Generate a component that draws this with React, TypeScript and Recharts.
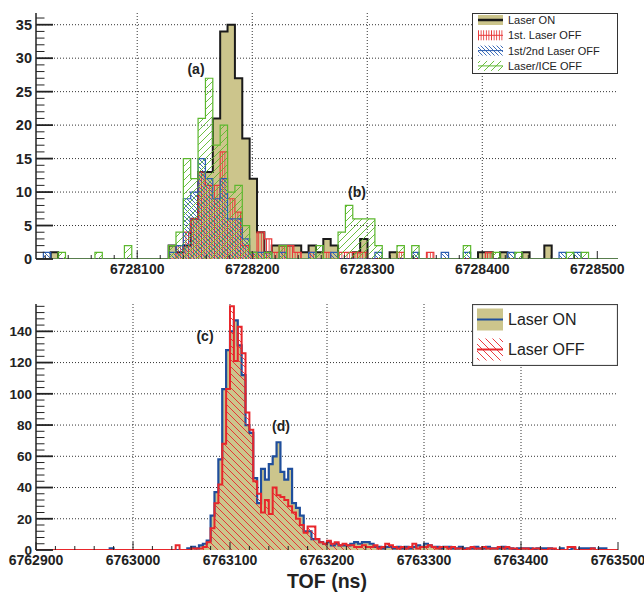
import { AreaChart, Area, XAxis, YAxis, CartesianGrid, Legend } from 'recharts'

const FONT = '"Liberation Sans", Arial, Helvetica, sans-serif'
const OLIVE = '#ccc58c'

// ---- upper panel: 79 bins between 6728012 and 6728518 ns ----
const topRange: [number, number] = [6728012, 6728518]
const topYMax = 36.75
const topXMajor = [6728100, 6728200, 6728300, 6728400, 6728500]
const topYMajor = [0, 5, 10, 15, 20, 25, 30, 35]

const laserOn = [
  0, 0, 1, 0, 0, 0, 0, 0, 0, 0,
  0, 0, 0, 0, 0, 0, 0, 0, 2, 1,
  2, 6, 13, 13, 21, 34, 35, 27, 18, 12,
  4, 1, 2, 2, 2, 2, 1, 2, 1, 3,
  2, 0, 0, 1, 3, 0, 0, 0, 1, 0,
  0, 0, 0, 0, 0, 0, 0, 0, 0, 0,
  1, 1, 0, 1, 0, 0, 1, 0, 0, 2,
  0, 0, 0, 0, 0, 0, 0, 0, 0,
]
const laser1stOff = [
  0, 0, 0, 0, 0, 0, 0, 0, 0, 0,
  0, 0, 0, 0, 0, 0, 0, 0, 0, 2,
  4, 6, 13, 11, 11, 16, 9, 7, 2, 1,
  4, 3, 1, 2, 2, 1, 0, 1, 0, 1,
  0, 1, 1, 1, 1, 0, 0, 0, 0, 1,
  0, 0, 0, 1, 0, 0, 0, 0, 0, 0,
  0, 1, 0, 0, 0, 0, 0, 0, 0, 0,
  0, 0, 0, 0, 0, 0, 0, 0, 0,
]
const laser12Off = [
  0, 1, 0, 0, 0, 0, 0, 0, 0, 0,
  0, 0, 0, 0, 0, 0, 0, 0, 1, 2,
  9, 10, 15, 12, 9, 12, 6, 6, 3, 1,
  1, 1, 0, 1, 0, 0, 0, 1, 0, 0,
  1, 0, 0, 0, 0, 0, 1, 0, 0, 0,
  0, 1, 0, 0, 0, 1, 0, 0, 1, 0,
  0, 0, 0, 0, 1, 0, 0, 0, 0, 0,
  0, 1, 0, 1, 0, 0, 0, 0, 0,
]
const laserIceOff = [
  0, 0, 0, 1, 0, 0, 0, 0, 1, 0,
  0, 0, 2, 0, 0, 0, 0, 0, 2, 4,
  15, 12, 21, 27, 17, 20, 10, 11, 5, 1,
  0, 1, 0, 2, 0, 0, 0, 0, 2, 0,
  0, 4, 8, 6, 6, 6, 2, 0, 0, 2,
  0, 2, 0, 0, 0, 0, 0, 0, 2, 0,
  0, 0, 1, 0, 0, 1, 0, 0, 0, 0,
  0, 0, 1, 0, 1, 0, 0, 0, 0,
]

// ---- lower panel: 4 ns bins from 6762900 to 6763500 ----
const botRange: [number, number] = [6762900, 6763500]
const botYMax = 157.5
const botXMajor = [6762900, 6763000, 6763100, 6763200, 6763300, 6763400, 6763500]
const botYMajor = [0, 20, 40, 60, 80, 100, 120, 140]

const onCounts = [
  0, 0, 0, 0, 0, 0, 0, 0, 0, 0,
  0, 0, 0, 0, 0, 0, 0, 0, 0, 1,
  0, 0, 0, 0, 0, 0, 0, 0, 0, 0,
  0, 0, 0, 0, 0, 0, 0, 0, 0, 1,
  2, 1, 3, 4, 6, 22, 37, 58, 103, 128,
  140, 147, 131, 112, 80, 75, 46, 30, 52, 45,
  55, 60, 69, 50, 45, 52, 30, 27, 22, 12,
  12, 7, 7, 5, 4, 5, 3, 4, 3, 3,
  3, 4, 5, 4, 5, 5, 4, 2, 2, 1,
  2, 2, 1, 2, 1, 2, 1, 2, 3, 2,
  4, 3, 2, 2, 1, 2, 2, 1, 1, 2,
  1, 1, 1, 2, 1, 1, 2, 1, 1, 1,
  2, 1, 1, 0, 1, 1, 1, 1, 0, 1,
  1, 1, 1, 0, 0, 1, 0, 0, 1, 0,
  1, 1, 1, 1, 0, 1, 1, 0, 0, 0,
]
const offCounts = [
  0, 0, 0, 0, 0, 0, 0, 0, 0, 0,
  0, 0, 0, 0, 0, 0, 0, 0, 0, 0,
  0, 0, 0, 0, 0, 0, 0, 0, 0, 0,
  0, 0, 0, 0, 0, 0, 3, 0, 0, 0,
  1, 1, 1, 2, 5, 14, 30, 42, 68, 103,
  156, 121, 143, 126, 88, 77, 44, 36, 24, 32,
  23, 40, 35, 34, 32, 28, 24, 20, 16, 11,
  15, 15, 7, 5, 4, 6, 4, 5, 3, 4,
  3, 3, 2, 2, 3, 2, 2, 3, 1, 2,
  4, 3, 2, 1, 2, 1, 2, 4, 1, 2,
  2, 3, 2, 1, 2, 2, 1, 2, 1, 1,
  0, 1, 2, 1, 1, 2, 1, 1, 1, 2,
  1, 2, 1, 1, 0, 1, 1, 0, 1, 1,
  0, 0, 1, 1, 0, 0, 0, 2, 2, 0,
  0, 0, 0, 1, 0, 0, 0, 0, 0, 0,
]

// histogram edges -> rows for stepAfter areas
function buildRows(range: [number, number], series: Record<string, number[]>) {
  const keys = Object.keys(series)
  const n = series[keys[0]].length
  const w = (range[1] - range[0]) / n
  const rows: Record<string, number>[] = []
  for (let i = 0; i <= n; i++) {
    const row: Record<string, number> = { x: i === n ? range[1] : range[0] + i * w }
    keys.forEach(k => { row[k] = series[k][Math.min(i, n - 1)] })
    rows.push(row)
  }
  return rows
}

function withMinor(step: number, lo: number, hi: number) {
  const out: number[] = []
  for (let v = Math.ceil(lo / step) * step; v <= hi + 1e-9; v += step) out.push(v)
  return out
}

const topRows = buildRows(topRange, { on: laserOn, off1: laser1stOff, off12: laser12Off, ice: laserIceOff })
const botRows = buildRows(botRange, { on: onCounts, off: offCounts })

const PLOT_LEFT = 36

function yTick(majors: number[], fontSize: number) {
  return (props: any) => {
    const { y, payload } = props
    const major = majors.includes(payload.value)
    return (
      <g>
        <line x1={PLOT_LEFT} x2={PLOT_LEFT + (major ? 17 : 8.5)} y1={y} y2={y} stroke="#222" strokeWidth={major ? 1.8 : 1} />
        {major && (
          <text x={PLOT_LEFT - 4} y={y} dy="0.36em" textAnchor="end" fontFamily={FONT} fontWeight="bold" fontSize={fontSize} fill="#222">
            {payload.value}
          </text>
        )}
      </g>
    )
  }
}

function xTick(majors: number[], plotBottom: number) {
  return (props: any) => {
    const { x, payload } = props
    const major = majors.includes(payload.value)
    return (
      <g>
        <line x1={x} x2={x} y1={plotBottom} y2={plotBottom - (major ? 8 : 4)} stroke="#222" strokeWidth={1} />
        {major && (
          <text x={x} y={plotBottom + 15} textAnchor="middle" fontFamily={FONT} fontWeight="bold" fontSize={14} fill="#222">
            {payload.value}
          </text>
        )}
      </g>
    )
  }
}

const topLegendItems = [
  { name: 'Laser ON', fill: OLIVE, line: '#1a1a1a', lw: 2.5 },
  { name: '1st. Laser OFF', fill: 'url(#hRedV)', line: '#e83a3a', lw: 1 },
  { name: '1st/2nd Laser OFF', fill: 'url(#hBlueB)', line: '#2a5db0', lw: 1 },
  { name: 'Laser/ICE OFF', fill: 'url(#hGreenF)', line: '#5cb82e', lw: 1 },
]
const botLegendItems = [
  { name: 'Laser ON', fill: OLIVE, line: '#1f4e9c', lw: 2 },
  { name: 'Laser OFF', fill: 'url(#hRedB)', line: '#e8262b', lw: 2 },
]

function TopLegend() {
  return (
    <svg width={146} height={61} style={{ display: 'block' }}>
      <rect x={0.5} y={0.5} width={145} height={60} fill="#fff" stroke="#333" />
      {topLegendItems.map((it, i) => {
        const cy = 7 + i * 15.3
        return (
          <g key={it.name}>
            <rect x={6} y={cy - 5} width={25} height={10} fill={it.fill} />
            <line x1={6} x2={31} y1={cy} y2={cy} stroke={it.line} strokeWidth={it.lw} />
            <text x={36} y={cy} dy="0.36em" fontFamily={FONT} fontSize={11} fill="#222">{it.name}</text>
          </g>
        )
      })}
    </svg>
  )
}

function BotLegend() {
  return (
    <svg width={146} height={62} style={{ display: 'block' }}>
      <rect x={0.5} y={0.5} width={145} height={61} fill="#fff" stroke="#444" strokeWidth={1.2} />
      {botLegendItems.map((it, i) => {
        const cy = 15.5 + i * 30
        return (
          <g key={it.name}>
            <rect x={5} y={cy - 11} width={26} height={22} fill={it.fill} />
            <line x1={5} x2={31} y1={cy} y2={cy} stroke={it.line} strokeWidth={it.lw} />
            <text x={36} y={cy} dy="0.36em" fontFamily={FONT} fontSize={16} fill="#222">{it.name}</text>
          </g>
        )
      })}
    </svg>
  )
}

export default function App() {
  return (
    <div style={{ position: 'absolute', left: 0, top: 0, width: 644, height: 594, background: '#fff' }}>
      <svg width={0} height={0} style={{ position: 'absolute' }}>
        <defs>
          <pattern id="hRedV" width={2.6} height={4} patternUnits="userSpaceOnUse">
            <line x1={1.3} y1={0} x2={1.3} y2={4} stroke="#e83a3a" strokeWidth={0.9} />
          </pattern>
          <pattern id="hBlueB" width={4} height={4} patternUnits="userSpaceOnUse">
            <path d="M-1,-1 L5,5 M-1,3 L1,5 M3,-1 L5,1" stroke="#2a5db0" strokeWidth={0.9} />
          </pattern>
          <pattern id="hGreenF" width={7} height={7} patternUnits="userSpaceOnUse">
            <path d="M-1,8 L8,-1 M-1,1 L1,-1 M6,8 L8,6" stroke="#5cb82e" strokeWidth={0.9} />
          </pattern>
          <pattern id="hRedB" width={7} height={7} patternUnits="userSpaceOnUse">
            <path d="M-1,-1 L8,8 M-1,6 L1,8 M6,-1 L8,1" stroke="#e8262b" strokeWidth={0.9} />
          </pattern>
        </defs>
      </svg>

      {/* upper panel */}
      <div style={{ position: 'absolute', left: 0, top: 0 }}>
        <AreaChart width={644} height={290} data={topRows} margin={{ top: 13, right: 26, left: 0, bottom: 0 }}>
          <CartesianGrid stroke="#333" strokeDasharray="1 2" horizontalValues={topYMajor.slice(1)} verticalValues={topXMajor.slice(0, 4)} />
          <XAxis dataKey="x" type="number" domain={topRange} allowDataOverflow height={31} ticks={withMinor(20, topRange[0], topRange[1])} interval={0} tick={xTick(topXMajor, 259)} tickLine={false} axisLine={false} />
          <YAxis type="number" domain={[0, topYMax]} allowDataOverflow width={36} ticks={withMinor(1, 0, topYMax)} interval={0} tick={yTick(topYMajor, 14.5)} tickLine={false} axisLine={{ stroke: '#222', strokeWidth: 1.5 }} />
          <XAxis xAxisId="frame" orientation="top" type="number" domain={topRange} height={0} tick={false} tickLine={false} axisLine={{ stroke: '#777' }} />
          <YAxis yAxisId="frame" orientation="right" type="number" domain={[0, topYMax]} width={0} tick={false} tickLine={false} axisLine={{ stroke: '#222' }} />
          <Area type="stepAfter" dataKey="on" stroke="#1a1a1a" strokeWidth={2} fill={OLIVE} fillOpacity={1} baseValue={0} isAnimationActive={false} dot={false} activeDot={false} />
          <Area type="stepAfter" dataKey="off1" stroke="#e83a3a" strokeWidth={1.2} fill="url(#hRedV)" fillOpacity={1} baseValue={0} isAnimationActive={false} dot={false} activeDot={false} />
          <Area type="stepAfter" dataKey="off12" stroke="#2a5db0" strokeWidth={1.2} fill="url(#hBlueB)" fillOpacity={1} baseValue={0} isAnimationActive={false} dot={false} activeDot={false} />
          <Area type="stepAfter" dataKey="ice" stroke="#5cb82e" strokeWidth={1.2} fill="url(#hGreenF)" fillOpacity={1} baseValue={0} isAnimationActive={false} dot={false} activeDot={false} />
          <Legend layout="horizontal" verticalAlign="middle" align="center" content={() => <TopLegend />} wrapperStyle={{ position: 'absolute', left: 472, top: 13, width: 146, height: 61 }} />
        </AreaChart>
      </div>

      {/* lower panel */}
      <div style={{ position: 'absolute', left: 0, top: 290 }}>
        <AreaChart width={644} height={304} data={botRows} margin={{ top: 14, right: 26, left: 0, bottom: 0 }}>
          <CartesianGrid stroke="#333" strokeDasharray="1 2" horizontalValues={botYMajor.slice(1)} verticalValues={botXMajor.slice(1, 6)} />
          <XAxis dataKey="x" type="number" domain={botRange} allowDataOverflow height={44} ticks={withMinor(20, botRange[0], botRange[1])} interval={0} tick={xTick(botXMajor, 260)} tickLine={false} axisLine={false} />
          <YAxis type="number" domain={[0, botYMax]} allowDataOverflow width={36} ticks={withMinor(4, 0, botYMax)} interval={0} tick={yTick(botYMajor, 13.5)} tickLine={false} axisLine={{ stroke: '#222', strokeWidth: 1.5 }} />
          <XAxis xAxisId="frame" orientation="top" type="number" domain={botRange} height={0} tick={false} tickLine={false} axisLine={{ stroke: '#777' }} />
          <YAxis yAxisId="frame" orientation="right" type="number" domain={[0, botYMax]} width={0} tick={false} tickLine={false} axisLine={{ stroke: '#222' }} />
          <Area type="stepAfter" dataKey="on" stroke="#1f4e9c" strokeWidth={2.2} fill={OLIVE} fillOpacity={1} baseValue={0} isAnimationActive={false} dot={false} activeDot={false} />
          <Area type="stepAfter" dataKey="off" stroke="#e8262b" strokeWidth={2} fill="url(#hRedB)" fillOpacity={1} baseValue={0} isAnimationActive={false} dot={false} activeDot={false} />
          <Legend layout="horizontal" verticalAlign="middle" align="center" content={() => <BotLegend />} wrapperStyle={{ position: 'absolute', left: 472, top: 14, width: 146, height: 62 }} />
        </AreaChart>
      </div>

      {/* annotations */}
      <svg width={644} height={594} style={{ position: 'absolute', left: 0, top: 0, pointerEvents: 'none' }}>
        <g fontFamily={FONT} fontWeight="bold" fontSize={14} fill="#222" textAnchor="middle">
          <text x={196} y={69} dy="0.36em">(a)</text>
          <text x={357} y={192} dy="0.36em">(b)</text>
          <text x={205} y={336} dy="0.36em">(c)</text>
          <text x={281} y={426} dy="0.36em">(d)</text>
        </g>
        <text x={327} y={588} textAnchor="middle" fontFamily={FONT} fontWeight="bold" fontSize={21} textLength={80} lengthAdjust="spacingAndGlyphs" fill="#222">TOF (ns)</text>
      </svg>
    </div>
  )
}
